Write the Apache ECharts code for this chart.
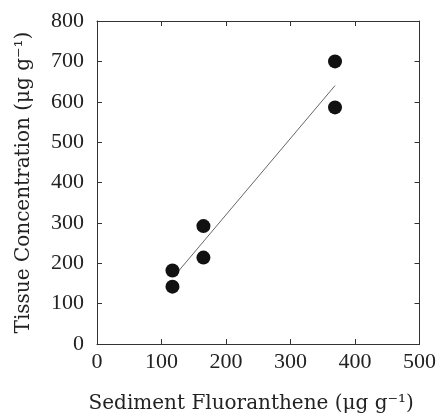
<!DOCTYPE html>
<html>
<head>
<meta charset="utf-8">
<script src="https://cdn.jsdelivr.net/npm/echarts@6/dist/echarts.min.js"></script>
<style>html,body{margin:0;padding:0;background:#fff;}#c{width:439px;height:419px;}</style>
</head>
<body>
<div id="c"></div>
<script>
var sediment = [117, 117, 165, 165, 369, 369];
var tissue = [182, 142, 292, 214, 700, 586];
var fitLine = [[125, 178], [369, 640]];
var xTicks = [0, 100, 200, 300, 400, 500];
var yTicks = [0, 100, 200, 300, 400, 500, 600, 700, 800];
var xTitle = 'Sediment Fluoranthene (μg g⁻¹)';
var yTitle = 'Tissue Concentration (μg g⁻¹)';

var points = sediment.map(function (x, i) { return [x, tissue[i]]; });
var font = 'Liberation Serif';
var titleFont = 'DejaVu Serif';
var axisCol = '#333';

var chart = echarts.init(document.getElementById('c'), null, { renderer: 'canvas' });
chart.setOption({
  animation: false,
  backgroundColor: '#fff',
  grid: { left: 97, right: 17, top: 21, bottom: 71, containLabel: false },
  xAxis: [{
    type: 'value', min: xTicks[0], max: xTicks[xTicks.length - 1], interval: 100,
    name: xTitle, nameLocation: 'middle', nameGap: 50,
    nameTextStyle: { fontFamily: titleFont, fontSize: 20, color: '#222', padding: [0, 14, 0, 0] },
    axisLine: { show: true, onZero: false, lineStyle: { color: axisCol, width: 1 } },
    axisTick: { show: true, inside: true, length: 5, lineStyle: { color: axisCol } },
    axisLabel: { fontFamily: font, fontSize: 22, color: '#222', margin: 7 },
    splitLine: { show: false }
  }, {
    type: 'value', position: 'top', min: 0, max: 500, interval: 100,
    axisLine: { show: true, onZero: false, lineStyle: { color: axisCol, width: 1 } },
    axisTick: { show: true, inside: true, length: 5, lineStyle: { color: axisCol } },
    axisLabel: { show: false }, splitLine: { show: false }
  }],
  yAxis: [{
    type: 'value', min: yTicks[0], max: yTicks[yTicks.length - 1], interval: 100,
    name: yTitle, nameLocation: 'middle', nameGap: 63,
    nameTextStyle: { fontFamily: titleFont, fontSize: 20, color: '#222' },
    axisLine: { show: true, onZero: false, lineStyle: { color: axisCol, width: 1 } },
    axisTick: { show: true, inside: true, length: 5, lineStyle: { color: axisCol } },
    axisLabel: { fontFamily: font, fontSize: 22, color: '#222', margin: 13 },
    splitLine: { show: false }
  }, {
    type: 'value', position: 'right', min: 0, max: 800, interval: 100,
    axisLine: { show: true, onZero: false, lineStyle: { color: axisCol, width: 1 } },
    axisTick: { show: true, inside: true, length: 5, lineStyle: { color: axisCol } },
    axisLabel: { show: false }, splitLine: { show: false }
  }],
  series: [{
    type: 'line', data: fitLine, symbol: 'none', silent: true,
    lineStyle: { color: '#666', width: 1 }, z: 1
  }, {
    type: 'scatter', data: points, symbol: 'circle', symbolSize: 14,
    itemStyle: { color: '#111', opacity: 1 }, z: 2
  }]
});
</script>
</body>
</html>
